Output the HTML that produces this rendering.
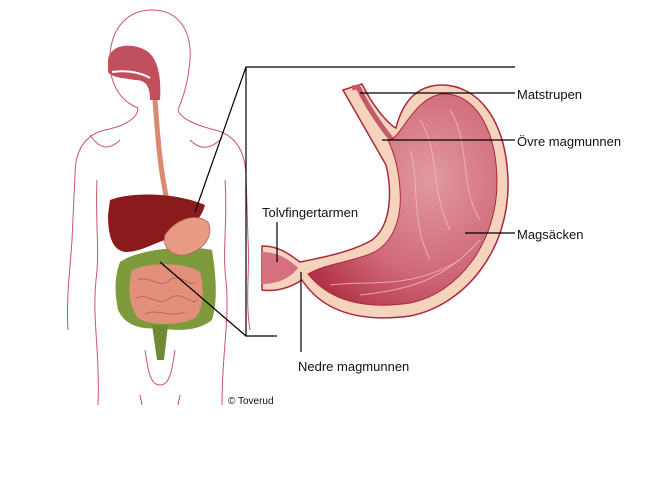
<!DOCTYPE html>
<html><head><meta charset="utf-8"><style>
html,body{margin:0;padding:0;background:#fff;}
svg{display:block}
text{font-family:"Liberation Sans",Arial,sans-serif;font-size:13px;fill:#111}
</style></head><body>
<svg width="653" height="484" viewBox="0 0 653 484" xmlns="http://www.w3.org/2000/svg">
<defs>
<radialGradient id="lum" cx="0.65" cy="0.4" r="0.75">
<stop offset="0" stop-color="#e29aa2"/><stop offset="0.6" stop-color="#d06a79"/><stop offset="1" stop-color="#b33448"/>
</radialGradient>
</defs>
<g fill="none" stroke="#c8566a" stroke-width="1">
<path d="M138,108 C118,100 108,80 110,55 C112,25 130,10 152,10 C178,10 192,30 190,60 C188,85 182,100 178,110 C180,118 195,125 215,130 C235,135 245,150 246,175 L248,240 C250,270 245,300 250,330"/>
<path d="M138,108 C138,118 125,126 105,130 C85,135 75,150 75,175 L72,240 C70,270 66,300 68,330"/>
<path d="M97,180 C95,220 100,250 96,280 C92,320 100,350 98,405"/>
<path d="M225,180 C228,220 222,250 226,280 C230,320 222,350 222,405"/>
<path d="M145,350 C148,370 150,385 160,385 C170,385 172,370 175,350"/>
<path d="M180,395 L178,405 M140,395 L142,405"/>
<path d="M90,135 C100,150 110,150 120,140 M190,140 C200,150 210,150 222,138"/>
</g>
<path d="M108,60 C110,45 130,42 145,50 C155,55 162,70 160,100 L150,100 C150,85 145,80 135,80 C125,78 112,78 108,72 Z" fill="#c0505e"/>
<path d="M112,72 C125,70 140,72 150,78" stroke="#fff" stroke-width="2" fill="none"/>
<path d="M155,100 C158,140 160,170 168,205" stroke="#d98a70" stroke-width="5" fill="none"/>
<path d="M110,200 C130,192 175,192 205,205 C200,225 180,235 165,240 C150,245 140,252 125,252 C112,250 108,235 108,215 Z" fill="#8a1a1c"/>
<path d="M120,262 C140,248 190,245 212,250 C216,275 218,300 212,320 C200,330 180,332 160,328 C140,330 125,325 118,310 C114,290 115,275 120,262 Z" fill="#7d9b3c"/>
<path d="M165,235 C175,220 195,212 208,222 C214,235 205,250 185,255 C172,256 162,248 165,235 Z" fill="#e79b84" stroke="#b8604f" stroke-width="0.8"/>
<path d="M132,270 C150,262 185,262 200,272 C205,290 203,310 195,318 C180,326 150,326 138,318 C128,305 128,285 132,270 Z" fill="#e2907c"/>
<g stroke="#b0604f" stroke-width="0.8" fill="none">
<path d="M138,280 C150,275 160,290 170,280 C180,272 190,288 196,282"/>
<path d="M136,298 C148,292 158,308 170,298 C182,290 190,306 198,300"/>
<path d="M145,314 C155,308 170,318 185,312"/>
</g>
<path d="M152,325 L168,325 L164,360 L157,360 Z" fill="#6f8c35"/>
<g stroke="#000" stroke-width="1.2" fill="none">
<path d="M515,67 L246,67 L246,336 L277,336"/>
<path d="M246,67 L195,212"/>
<path d="M246,336 L160,262"/>
</g>
<path d="M343,90 L362,84 C372,105 388,124 396,128 C403,100 418,86 440,85 C478,84 506,120 508,180 C510,250 465,305 410,316 C365,322 325,315 302,280 C290,288 275,292 262,290 L262,246 C280,246 290,255 300,262 C320,258 352,252 372,240 C392,225 392,190 386,165 Z" fill="#f6d3bc" stroke="#a82a3a" stroke-width="1.5"/>
<path d="M352,88 L358,87 C368,108 380,125 392,140" stroke="#c25a68" stroke-width="5" fill="none"/>
<path d="M388,140 C400,142 412,98 442,94 C474,92 496,128 497,180 C498,240 460,293 410,303 C370,309 332,304 308,274 C325,264 350,262 370,254 C395,244 402,215 400,190 C399,170 395,155 388,140 Z" fill="url(#lum)" stroke="#a82a3a" stroke-width="1"/>
<path d="M262,252 C278,252 290,260 298,268 C290,278 278,284 262,284 Z" fill="#d47080"/>
<g stroke="#f0bcc0" stroke-width="1" fill="none" opacity="0.8">
<path d="M420,120 C440,150 430,190 450,230"/><path d="M450,110 C470,140 460,190 480,220"/>
<path d="M330,285 C370,280 410,290 460,260"/><path d="M360,295 C400,290 440,285 480,240"/>
<path d="M410,150 C420,180 410,220 430,260"/>
</g>
<g stroke="#000" stroke-width="1.2">
<line x1="360" y1="93" x2="515" y2="93"/>
<line x1="382" y1="140" x2="515" y2="140"/>
<line x1="465" y1="233" x2="515" y2="233"/>
<line x1="277" y1="222" x2="277" y2="262"/>
<line x1="301" y1="272" x2="301" y2="352"/>
</g>
<text x="517" y="99">Matstrupen</text>
<text x="517" y="146">Övre magmunnen</text>
<text x="517" y="239">Magsäcken</text>
<text x="262" y="217">Tolvfingertarmen</text>
<text x="298" y="371">Nedre magmunnen</text>
<text x="228" y="404" style="font-size:10px">© Toverud</text>
</svg>
</body></html>
